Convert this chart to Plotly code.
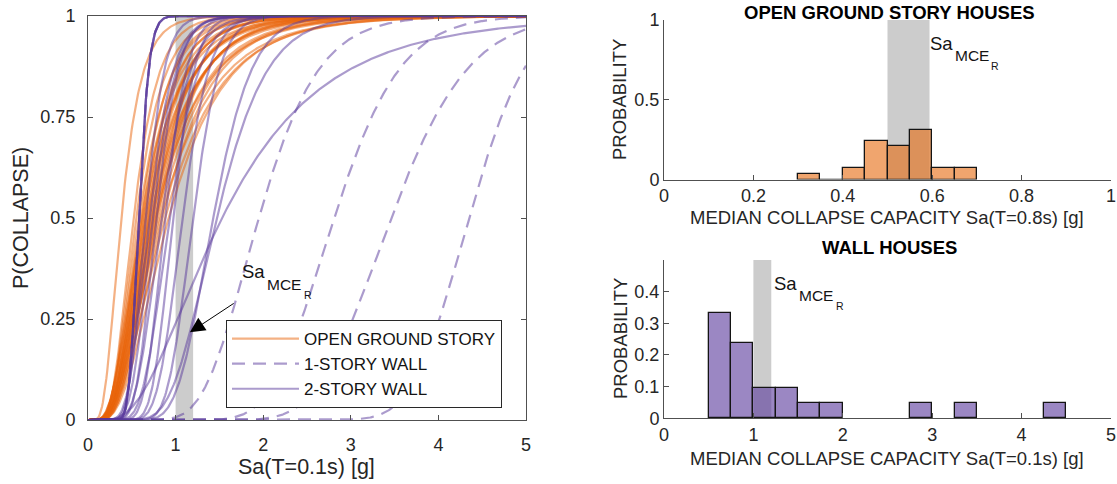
import math
import numpy as np
import plotly.graph_objects as go

# ---------------- data ----------------
# Open-ground-story fragility curves (left panel), lognormal median [g] and dispersion
ogs_median = [0.38, 0.52, 0.55, 0.58, 0.60, 0.61, 0.62, 0.63, 0.64, 0.65, 0.66, 0.67,
              0.68, 0.69, 0.70, 0.71, 0.72, 0.73, 0.74, 0.75, 0.76, 0.77, 0.78, 0.79,
              0.81, 0.83, 0.85, 0.88, 0.92]
ogs_beta = [0.47, 0.42, 0.45, 0.48, 0.44, 0.52, 0.47, 0.55, 0.45, 0.50, 0.57, 0.48,
            0.54, 0.46, 0.52, 0.58, 0.50, 0.55, 0.47, 0.53, 0.60, 0.51, 0.56, 0.49,
            0.55, 0.60, 0.53, 0.58, 0.55]
# 1-story wall houses (dashed)
wall1_median = [0.58, 1.95, 2.81, 3.46, 4.35]
wall1_beta = [0.16, 0.27, 0.21, 0.20, 0.12]
# 2-story wall houses (solid)
wall2_median = [0.58, 0.58, 0.58, 0.66, 0.70, 0.74, 0.78, 0.84, 0.88, 0.93, 0.97,
                1.08, 1.20, 1.43, 1.47, 1.53]
wall2_beta = [0.16, 0.16, 0.16, 0.25, 0.30, 0.28, 0.25, 0.30, 0.22, 0.28, 0.20,
              0.22, 0.20, 0.24, 0.30, 0.60]

# Histogram: open ground story houses, Sa(T=0.8s)
ogs_bin_left = [0.30, 0.35, 0.40, 0.45, 0.50, 0.55, 0.60, 0.65]
ogs_prob = [0.0345, 0.0, 0.069, 0.241, 0.207, 0.310, 0.069, 0.069]
ogs_bin_width = 0.05
# Histogram: wall houses, Sa(T=0.1s)
wall_bin_left = [0.50, 0.75, 1.00, 1.25, 1.50, 1.75, 2.75, 3.25, 4.25]
wall_prob = [0.333, 0.238, 0.095, 0.095, 0.048, 0.048, 0.048, 0.048, 0.048]
wall_bin_width = 0.25

# Sa_MCE_R bands
mce_band_t01 = [1.0, 1.2]
mce_band_t08 = [0.5, 0.594]

# ---------------- styling ----------------
FONT = "Liberation Sans, Arial, sans-serif"
TXT = "rgb(38,38,38)"
ORANGE_LINE = "rgba(233,100,10,0.5)"
PURPLE_LINE = "rgba(88,55,155,0.5)"
ORANGE_BAR = "rgba(230,105,13,0.6)"
PURPLE_BAR = "rgba(88,55,155,0.6)"
GREY = "rgb(204,204,204)"
W, H = 1117, 484

sa = np.linspace(0.0, 5.0, 501)
erf = np.vectorize(math.erf)


def lognorm_cdf(x, m, b):
    out = np.zeros_like(x)
    pos = x > 0
    out[pos] = 0.5 * (1.0 + erf(np.log(x[pos] / m) / (b * math.sqrt(2.0))))
    return out


fig = go.Figure()

# ---- left panel curves ----
for i, (m, b) in enumerate(zip(ogs_median, ogs_beta)):
    fig.add_trace(go.Scatter(x=sa, y=lognorm_cdf(sa, m, b), mode="lines",
                             line=dict(color=ORANGE_LINE, width=2.2),
                             name="OPEN GROUND STORY", legendgroup="ogs",
                             showlegend=(i == 0), xaxis="x", yaxis="y",
                             hoverinfo="skip"))
for i, (m, b) in enumerate(zip(wall1_median, wall1_beta)):
    fig.add_trace(go.Scatter(x=sa, y=lognorm_cdf(sa, m, b), mode="lines",
                             line=dict(color=PURPLE_LINE, width=2.2, dash="13px,8px"),
                             name="1-STORY WALL", legendgroup="w1",
                             showlegend=(i == 0), xaxis="x", yaxis="y",
                             hoverinfo="skip"))
for i, (m, b) in enumerate(zip(wall2_median, wall2_beta)):
    fig.add_trace(go.Scatter(x=sa, y=lognorm_cdf(sa, m, b), mode="lines",
                             line=dict(color=PURPLE_LINE, width=2.2),
                             name="2-STORY WALL", legendgroup="w2",
                             showlegend=(i == 0), xaxis="x", yaxis="y",
                             hoverinfo="skip"))

# ---- histograms ----
fig.add_trace(go.Bar(x=ogs_bin_left, y=ogs_prob, width=ogs_bin_width, offset=0,
                     marker=dict(color=ORANGE_BAR, line=dict(color="rgb(20,20,20)", width=1.3)),
                     showlegend=False, xaxis="x2", yaxis="y2"))
fig.add_trace(go.Bar(x=wall_bin_left, y=wall_prob, width=wall_bin_width, offset=0,
                     marker=dict(color=PURPLE_BAR, line=dict(color="rgb(20,20,20)", width=1.3)),
                     showlegend=False, xaxis="x3", yaxis="y3"))

# ---- geometry (pixel -> paper) ----
def px(xp):
    return xp / W


def py(yp):
    return 1 - yp / H


left_x = [px(88), px(526)]
left_y = [py(420), py(16)]
right_x = [px(664), px(1111)]
top_y = [py(179.5), py(20)]
bot_y = [py(418.3), py(260)]

axis_common = dict(showline=True, linecolor="rgb(80,80,80)", linewidth=1,
                   ticks="inside", ticklen=5, tickcolor="rgb(80,80,80)",
                   showgrid=False, zeroline=False, automargin=False,
                   tickfont=dict(family=FONT, size=18, color=TXT))

fig.update_layout(
    width=W, height=H, autosize=False,
    margin=dict(l=0, r=0, t=0, b=0, pad=0, autoexpand=False),
    plot_bgcolor="white", paper_bgcolor="white",
    font=dict(family=FONT, color=TXT),
    bargap=0,
    xaxis=dict(domain=left_x, range=[0, 5], tickvals=[0, 1, 2, 3, 4, 5],
               mirror="ticks", anchor="y", ticklabelstandoff=8, **axis_common),
    yaxis=dict(domain=left_y, range=[0, 1], tickvals=[0, 0.25, 0.5, 0.75, 1],
               ticktext=["0", "0.25", "0.5", "0.75", "1"],
               mirror="ticks", anchor="x", ticklabelstandoff=8, **axis_common),
    xaxis2=dict(domain=right_x, range=[0, 1], tickvals=[0, 0.2, 0.4, 0.6, 0.8, 1],
                ticktext=["0", "0.2", "0.4", "0.6", "0.8", "1"], anchor="y2", **axis_common),
    yaxis2=dict(domain=top_y, range=[0, 1], tickvals=[0, 0.5, 1],
                ticktext=["0", "0.5", "1"], anchor="x2", **axis_common),
    xaxis3=dict(domain=right_x, range=[0, 5], tickvals=[0, 1, 2, 3, 4, 5], anchor="y3",
                **axis_common),
    yaxis3=dict(domain=bot_y, range=[0, 0.5], tickvals=[0, 0.1, 0.2, 0.3, 0.4],
                ticktext=["0", "0.1", "0.2", "0.3", "0.4"], anchor="x3", **axis_common),
    legend=dict(x=px(226), y=py(320), xanchor="left", yanchor="top",
                bgcolor="white", bordercolor="rgb(40,40,40)", borderwidth=1,
                font=dict(family=FONT, size=17, color="rgb(20,20,20)"),
                itemwidth=67, tracegroupgap=0),
)

# ---- Sa_MCE_R bands ----
fig.add_shape(type="rect", xref="x", yref="y", x0=mce_band_t01[0], x1=mce_band_t01[1],
              y0=0, y1=1, fillcolor=GREY, line=dict(width=0), layer="below")
fig.add_shape(type="rect", xref="x2", yref="y2", x0=mce_band_t08[0], x1=mce_band_t08[1],
              y0=0, y1=1, fillcolor=GREY, line=dict(width=0), layer="below")
fig.add_shape(type="rect", xref="x3", yref="y3", x0=mce_band_t01[0], x1=mce_band_t01[1],
              y0=0, y1=0.5, fillcolor=GREY, line=dict(width=0), layer="below")

ann = []


def sa_label(xref, yref, x, y):
    base = dict(xref=xref, yref=yref, x=x, y=y, showarrow=False, xanchor="left",
                yanchor="middle", borderpad=0)
    ann.append(dict(text="Sa", font=dict(family=FONT, size=18.5, color="rgb(20,20,20)"), **base))
    ann.append(dict(text="MCE", xshift=25, yshift=-12.5,
                    font=dict(family=FONT, size=15.5, color="rgb(20,20,20)"), **base))
    ann.append(dict(text="R", xshift=61.5, yshift=-23,
                    font=dict(family=FONT, size=10.5, color="rgb(20,20,20)"), **base))


sa_label("x", "y", 1.75, 0.367)
sa_label("x2", "y2", 0.592, 0.854)
sa_label("x3", "y3", 1.22, 0.426)

# arrow on the left panel
ann.append(dict(xref="x", yref="y", axref="x", ayref="y", x=1.163, y=0.217,
                ax=1.68, ay=0.291, text="", showarrow=True, arrowhead=2,
                arrowsize=3, arrowwidth=1, arrowcolor="black"))

# titles and axis titles
def txt(text, xp, yp, size, bold=False, angle=0, color=TXT):
    ann.append(dict(xref="paper", yref="paper", x=px(xp), y=py(yp), text=text,
                    showarrow=False, xanchor="center", yanchor="middle", textangle=angle,
                    font=dict(family=FONT, size=size, color=color,
                              weight="bold" if bold else "normal")))


txt("Sa(T=0.1s) [g]", 306, 467, 21.5)
txt("P(COLLAPSE)", 21, 218, 21.5, angle=-90)
txt("OPEN GROUND STORY HOUSES", 889, 12, 18.5, bold=True, color="black")
txt("MEDIAN COLLAPSE CAPACITY Sa(T=0.8s) [g]", 887, 218, 18.5)
txt("PROBABILITY", 620, 100, 18.5, angle=-90)
txt("WALL HOUSES", 889, 247, 18.5, bold=True, color="black")
txt("MEDIAN COLLAPSE CAPACITY Sa(T=0.1s) [g]", 887, 458, 18.5)
txt("PROBABILITY", 620, 339, 18.5, angle=-90)

fig.update_layout(annotations=ann)

page_fix = (
    "document.documentElement.style.margin='0px';"
    "document.body.style.margin='0px';"
    "document.body.style.overflow='hidden';"
)
fig.write_html("out.html", config={"displayModeBar": False},
               post_script=page_fix)
